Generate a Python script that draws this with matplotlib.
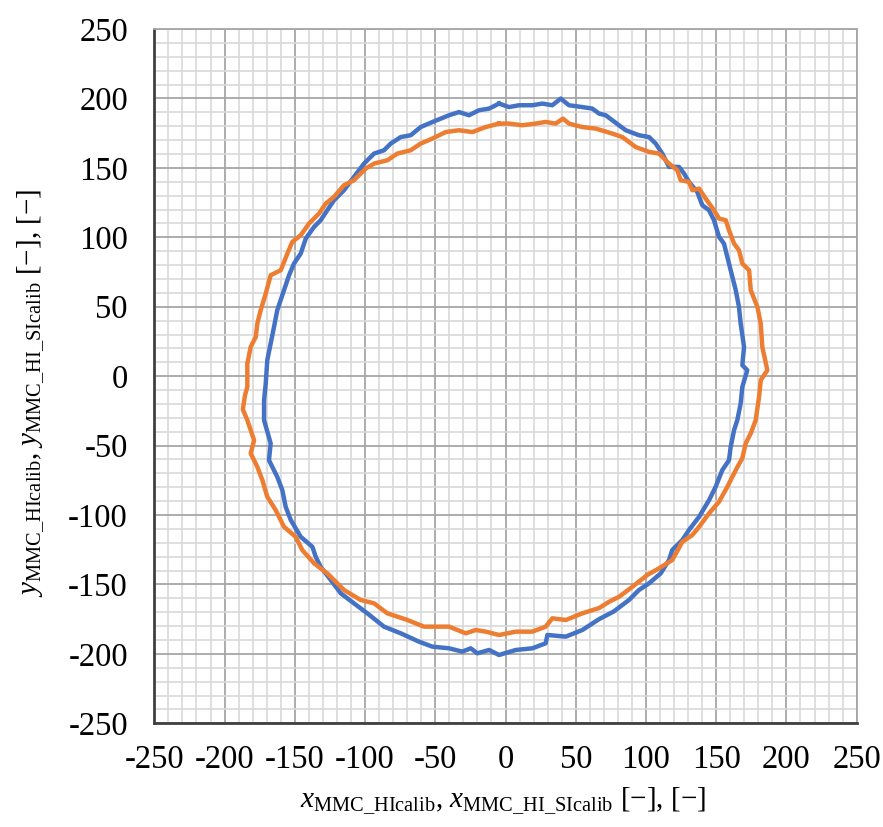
import matplotlib
matplotlib.use("Agg")
import matplotlib.pyplot as plt
from matplotlib.ticker import MultipleLocator

plt.rcParams['font.family'] = ['Liberation Serif', 'DejaVu Serif']
plt.rcParams['mathtext.fontset'] = 'custom'
plt.rcParams['mathtext.rm'] = 'Liberation Serif'
plt.rcParams['mathtext.it'] = 'Liberation Serif:italic'
plt.rcParams['axes.unicode_minus'] = False

# Blue series (HIcalib), traced clockwise from the top
blue_x = [-4.6, 2.5, 9.6, 19.1, 26.2, 33.3, 39.3, 45.2, 54.7, 61.8, 66.6, 71.3, 76.0,
          85.6, 95.0, 102.2, 106.9, 111.6, 116.4, 123.5, 127.1, 130.6, 136.5, 140.1,
          144.9, 148.4, 152.0, 155.5, 157.9, 160.3, 163.9, 166.2, 167.4, 169.8, 168.6,
          172.1, 168.6, 167.4, 165.0, 162.7, 160.3, 159.1, 154.3, 149.6, 144.9, 137.8,
          130.6, 125.9, 118.7, 116.4, 110.5, 102.2, 95.0, 87.9, 77.0, 66.6, 54.7, 42.9,
          29.8, 28.6, 19.1, 7.3, -4.6, -11.7, -20.1, -24.8, -30.8, -40.2, -52.1, -61.6,
          -74.6, -86.5, -98.4, -107.9, -117.3, -124.4, -131.6, -135.1, -137.5, -145.8,
          -152.9, -156.5, -158.9, -162.5, -168.4, -167.2, -171.9, -171.9, -170.7,
          -169.6, -167.2, -164.8, -162.5, -157.7, -154.1, -150.6, -145.8, -142.2,
          -136.3, -131.6, -126.9, -122.1, -115.0, -107.9, -100.7, -93.6, -86.5, -81.7,
          -74.6, -67.5, -60.4, -52.1, -40.2, -33.1, -26.0, -18.9, -11.7, -4.6]
blue_y = [196.3, 193.8, 195.1, 195.1, 196.3, 195.1, 199.9, 195.1, 193.8, 192.7, 189.1,
          187.9, 184.3, 177.1, 173.5, 172.2, 167.5, 160.3, 150.7, 150.7, 145.9, 139.9,
          132.7, 123.1, 119.5, 112.3, 100.3, 95.5, 85.9, 76.3, 61.9, 49.9, 37.9, 21.1,
          7.9, 4.3, -7.7, -19.7, -31.7, -38.9, -50.9, -60.5, -67.7, -79.7, -89.3, -101.3,
          -110.8, -118.0, -125.2, -132.4, -142.0, -149.2, -154.0, -161.2, -169.5,
          -175.0, -182.8, -187.6, -186.4, -192.4, -196.0, -197.2, -200.8, -197.2,
          -199.6, -196.0, -198.4, -196.0, -194.8, -191.2, -185.2, -180.4, -170.8,
          -163.6, -156.4, -146.8, -137.3, -130.1, -122.9, -115.7, -103.6, -94.1, -82.1,
          -72.5, -60.5, -48.4, -31.7, -17.3, -5.3, 11.5, 23.5, 35.5, 47.5, 61.9, 72.7,
          81.1, 88.3, 99.1, 107.5, 112.3, 119.5, 126.7, 133.9, 143.5, 153.1, 160.3,
          162.7, 167.5, 172.2, 173.5, 179.4, 183.0, 187.9, 190.2, 187.9, 191.5, 192.7,
          196.3]

# Orange series (HI_SIcalib), traced clockwise from the top
orange_x = [-4.6, 2.5, 12.0, 21.5, 28.6, 35.7, 40.9, 45.2, 54.7, 64.2, 76.0, 83.2, 92.7,
            102.2, 109.3, 116.4, 122.3, 124.7, 130.6, 133.0, 137.8, 142.5, 148.4, 152.0,
            156.8, 159.1, 162.7, 166.2, 168.6, 173.4, 174.6, 179.3, 181.7, 182.8, 186.4,
            181.7, 180.5, 178.1, 174.6, 171.0, 168.6, 164.5, 157.9, 152.0, 144.9, 137.8,
            133.0, 125.9, 118.7, 109.3, 100.9, 90.3, 80.8, 73.7, 66.6, 54.7, 42.9, 33.3,
            28.6, 19.1, 7.3, -4.6, -14.1, -21.2, -28.3, -40.2, -52.1, -58.0, -69.9,
            -84.1, -93.6, -103.1, -115.0, -126.9, -136.3, -144.7, -149.4, -157.7, -163.6,
            -169.6, -173.1, -176.7, -181.4, -179.0, -183.8, -187.0, -185.5, -183.8,
            -183.8, -181.4, -177.8, -176.7, -174.3, -170.7, -167.2, -160.0, -155.3,
            -151.8, -145.8, -139.9, -132.8, -128.0, -122.1, -115.0, -107.9, -99.5, -93.6,
            -84.1, -77.0, -67.5, -60.4, -52.1, -42.6, -33.1, -23.6, -14.1, -4.6]
orange_y = [181.9, 181.9, 180.7, 181.9, 183.1, 181.9, 185.5, 181.9, 179.4, 178.3, 174.7,
            172.2, 165.0, 161.5, 160.3, 153.1, 148.3, 141.1, 139.9, 133.9, 135.1, 127.9,
            119.5, 113.5, 112.3, 105.1, 95.5, 90.7, 81.1, 76.3, 61.9, 49.9, 37.9, 21.1,
            4.3, -2.9, -14.9, -31.7, -41.2, -48.4, -59.0, -66.5, -79.7, -90.5, -98.8,
            -108.5, -114.4, -119.3, -132.4, -138.4, -143.2, -151.7, -158.9, -162.5,
            -167.0, -170.8, -175.6, -174.4, -180.4, -184.0, -184.0, -186.4, -184.0,
            -182.8, -185.2, -180.4, -180.4, -180.4, -175.6, -170.8, -163.6, -161.2,
            -154.0, -142.0, -134.8, -125.2, -115.7, -108.5, -96.5, -86.9, -74.9, -65.3,
            -55.6, -46.1, -31.7, -24.0, -14.0, -7.7, 9.1, 21.1, 28.3, 37.9, 47.5, 59.5,
            72.7, 76.3, 88.3, 96.7, 101.5, 109.9, 117.1, 124.3, 129.1, 137.5, 141.1,
            149.5, 153.1, 155.5, 160.3, 162.7, 167.5, 171.1, 175.8, 177.1, 175.8, 179.4,
            181.9]

W, H = 883, 827
fig = plt.figure(figsize=(W / 100, H / 100), dpi=100)
ax = fig.add_axes([0.1748, 0.1254, 0.7954, 0.8395])

ax.plot(blue_x, blue_y, color='#4472C4', lw=3.2, zorder=3, solid_joinstyle='round')
ax.plot(orange_x, orange_y, color='#ED7D31', lw=3.2, zorder=3, solid_joinstyle='round')

ax.set_xlim(-250, 250)
ax.set_ylim(-250, 250)
ax.xaxis.set_major_locator(MultipleLocator(50))
ax.yaxis.set_major_locator(MultipleLocator(50))
ax.xaxis.set_minor_locator(MultipleLocator(10))
ax.yaxis.set_minor_locator(MultipleLocator(10))
ax.grid(which='minor', color='#d9d9d9', lw=1.2, zorder=0)
ax.grid(which='major', color='#a6a6a6', lw=1.3, zorder=1)
ax.set_axisbelow(True)
ax.tick_params(which='both', length=0, labelsize=23.5)
ax.tick_params(axis='y', pad=19)
ax.tick_params(axis='x', pad=15)
for s in ['top', 'right']:
    ax.spines[s].set_color('#a6a6a6')
    ax.spines[s].set_linewidth(1.3)
for s in ['left', 'bottom']:
    ax.spines[s].set_color('#404040')
    ax.spines[s].set_linewidth(2.0)

fig.text(503 / W, 1 - 808 / H,
         r'$x_{\mathrm{MMC\_HIcalib}}$, $x_{\mathrm{MMC\_HI\_SIcalib}}$ [−], [−]',
         fontsize=21, ha='center', va='baseline')
fig.text(31 / W, 1 - 393 / H,
         r'$y_{\mathrm{MMC\_HIcalib}}$, $y_{\mathrm{MMC\_HI\_SIcalib}}$ [−], [−]',
         fontsize=21, ha='center', va='center', rotation=90)

fig.savefig('out.png', dpi=100)
